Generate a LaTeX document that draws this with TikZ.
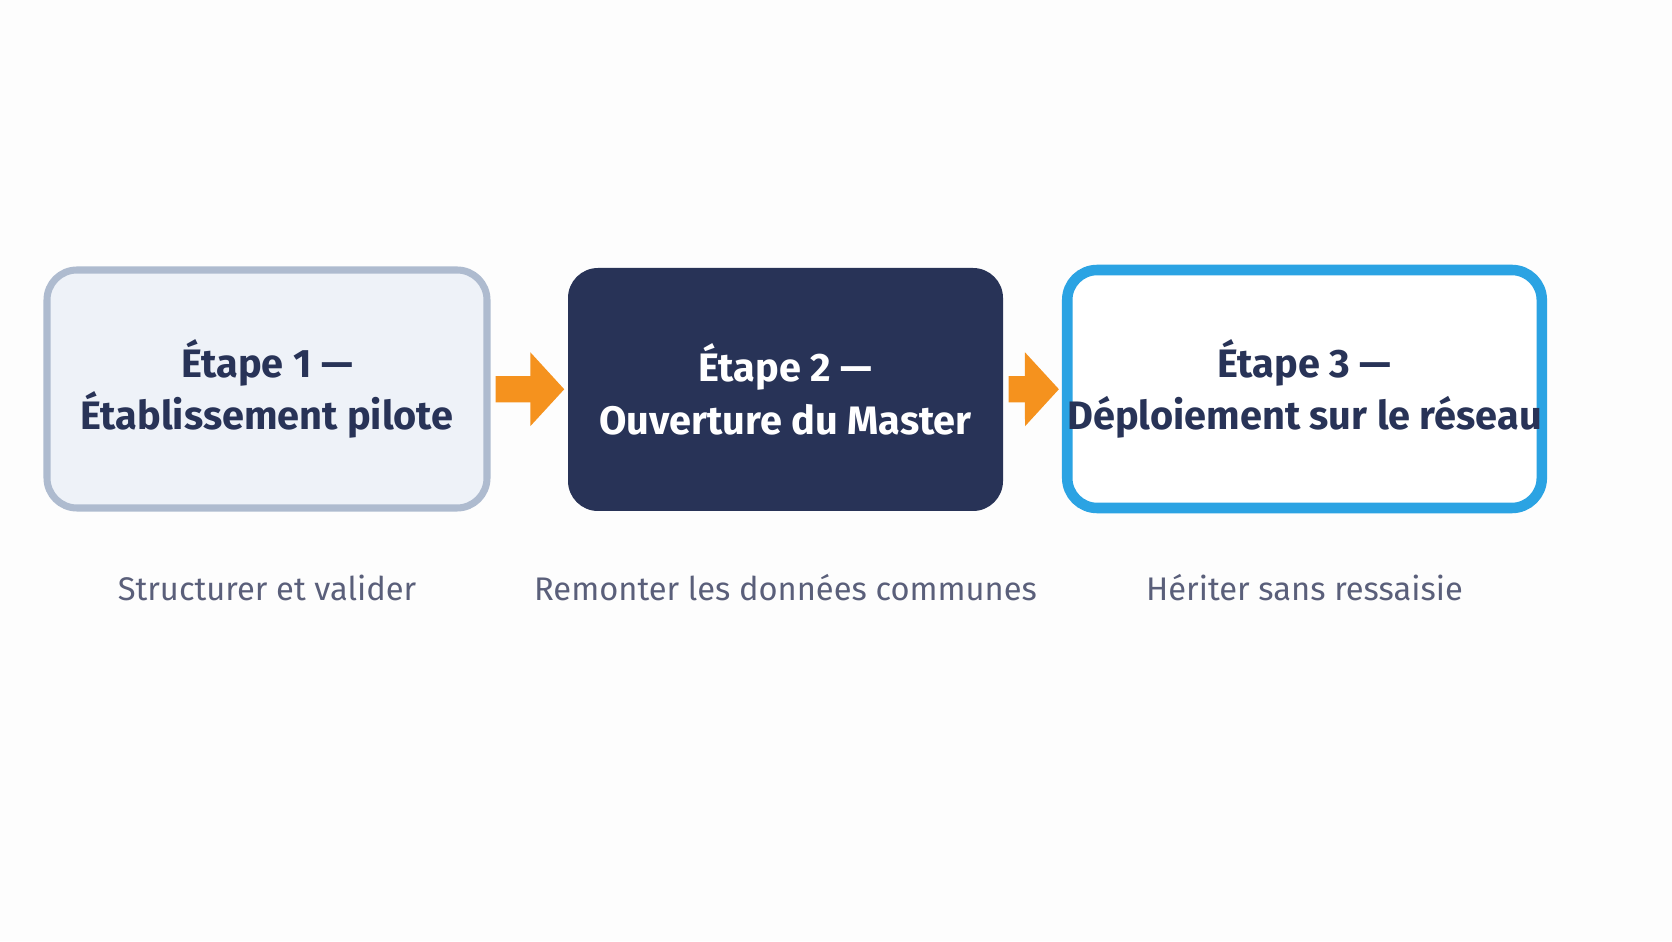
\documentclass[tikz,border=0pt]{standalone}
\usepackage{fontspec}
\setmainfont{Fira Sans}
\usetikzlibrary{arrows.meta}
\definecolor{navy}{HTML}{283357}
\definecolor{paleblue}{HTML}{EEF2F8}
\definecolor{greyline}{HTML}{AEBBCF}
\definecolor{skyline}{HTML}{2BA3E3}
\definecolor{subgrey}{HTML}{5A5F7A}
\definecolor{orangearrow}{HTML}{F5921E}
\tikzset{
	stage/.style={rounded corners=0.3cm, minimum width=4.4cm, minimum height=2.38cm,
			align=center, inner sep=0pt, font=\fontsize{11.3}{15}\selectfont\bfseries},
	caption/.style={font=\fontsize{9.3}{11}\selectfont, text=subgrey},
	flow/.style={orangearrow, line width=7.5pt, shorten <=0.05cm, shorten >=0.03cm,
			-{Triangle[length=0.34cm, width=0.72cm]}}
}

\begin{document}
\begin{tikzpicture}
            \fill[white!97!gray!40] (0,0) rectangle (16.72,9.41);
            \useasboundingbox (0,0) rectangle (16.72,9.41);
            \node[stage, draw=greyline, line width=2pt, fill=paleblue, text=navy] (s1) at (2.67,5.52) {Étape 1 —\\Établissement pilote};
            \node[stage, fill=navy, text=white, minimum width=4.35cm, minimum height=2.43cm] (s2) at (7.855,5.515) {Étape 2 —\\Ouverture du Master};
            \node[stage, draw=skyline, line width=3pt, fill=white, text=navy] (s3) at (13.045,5.52) {Étape 3 —\\Déploiement sur le réseau};
            \node[caption] (c1) at (2.67,3.53) {Structurer et valider};
            \node[caption] (c2) at (7.855,3.53) {Remonter les données communes};
            \node[caption] (c3) at (13.045,3.53) {Hériter sans ressaisie};
            \draw[flow] (s1) -- (s2);
            \draw[flow] (s2) -- (s3);
        \end{tikzpicture}
\end{document}
